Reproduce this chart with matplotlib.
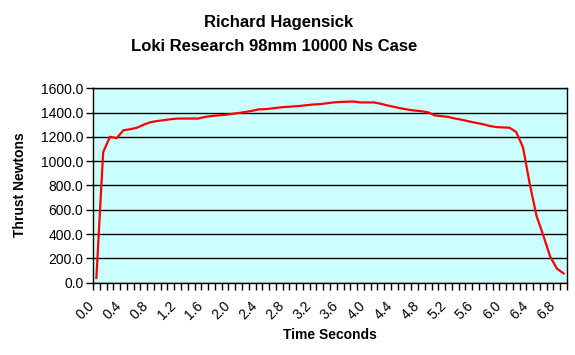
import matplotlib
matplotlib.use('Agg')
import matplotlib.pyplot as plt
import matplotlib.transforms as mtransforms

# thrust curve, one reading every 0.1 s
time_s = [round(0.1 * i, 1) for i in range(70)]
thrust_n = [37, 1075, 1201, 1191, 1256, 1264, 1277, 1302, 1322, 1332,
            1339, 1347, 1352, 1352, 1352, 1352, 1365, 1373, 1378, 1383,
            1390, 1398, 1406, 1416, 1428, 1430, 1436, 1443, 1448, 1452,
            1456, 1462, 1468, 1471, 1478, 1485, 1489, 1491, 1493, 1485,
            1485, 1485, 1474, 1460, 1448, 1436, 1426, 1418, 1413, 1403,
            1378, 1372, 1365, 1352, 1342, 1329, 1317, 1307, 1292, 1282,
            1279, 1277, 1241, 1115, 812, 549, 388, 216, 115, 75]
x_labels = ['%.1f' % (0.4 * k) for k in range(18)]
y_ticks = [200 * k for k in range(9)]

plt.rcParams['font.family'] = ['Liberation Sans', 'DejaVu Sans']

fig = plt.figure(figsize=(5.75, 3.55), dpi=100)
ax = fig.add_axes([93 / 575, 72.5 / 355, 474 / 575, 194 / 355])
ax.set_facecolor('#ccffff')

ax.plot(time_s, thrust_n, color='#ff0000', lw=1.6, solid_joinstyle='miter')

ax.set_xlim(-0.05, 6.95)
ax.set_ylim(0, 1600)
ax.set_yticks(y_ticks)
ax.set_yticklabels(['%.1f' % v for v in y_ticks], fontsize=10)
ax.yaxis.grid(True, color='black', lw=1)
ax.set_axisbelow(True)

ax.set_xticks([0.4 * k for k in range(18)])
ax.set_xticklabels(x_labels, fontsize=10, rotation=45, ha='right', va='center',
                   rotation_mode='anchor')
ax.set_xticks([-0.05 + 0.1 * k for k in range(71)], minor=True)
ax.tick_params(axis='x', which='major', length=0, pad=15)
ax.tick_params(axis='x', which='minor', length=5, width=1, direction='out')
ax.tick_params(axis='y', length=5, width=1, direction='out', pad=2)

shift = mtransforms.ScaledTranslation(-4 / 100, 0, fig.dpi_scale_trans)
for lab in ax.get_xticklabels():
    lab.set_transform(lab.get_transform() + shift)

for s in ax.spines.values():
    s.set_color('black')
    s.set_linewidth(1)

fig.text(0.484, 1 - 22 / 355, 'Richard Hagensick', ha='center', va='center',
         fontsize=12, fontweight='bold')
fig.text(0.476, 1 - 46.5 / 355, 'Loki Research 98mm 10000 Ns Case', ha='center',
         va='center', fontsize=12, fontweight='bold')
fig.text(330 / 575, 1 - 335 / 355, 'Time Seconds', ha='center', va='center',
         fontsize=10, fontweight='bold')
fig.text(20 / 575, 1 - 185 / 355, 'Thrust Newtons', ha='center', va='center',
         rotation=90, fontsize=10, fontweight='bold')

fig.savefig('out.png', dpi=100)
